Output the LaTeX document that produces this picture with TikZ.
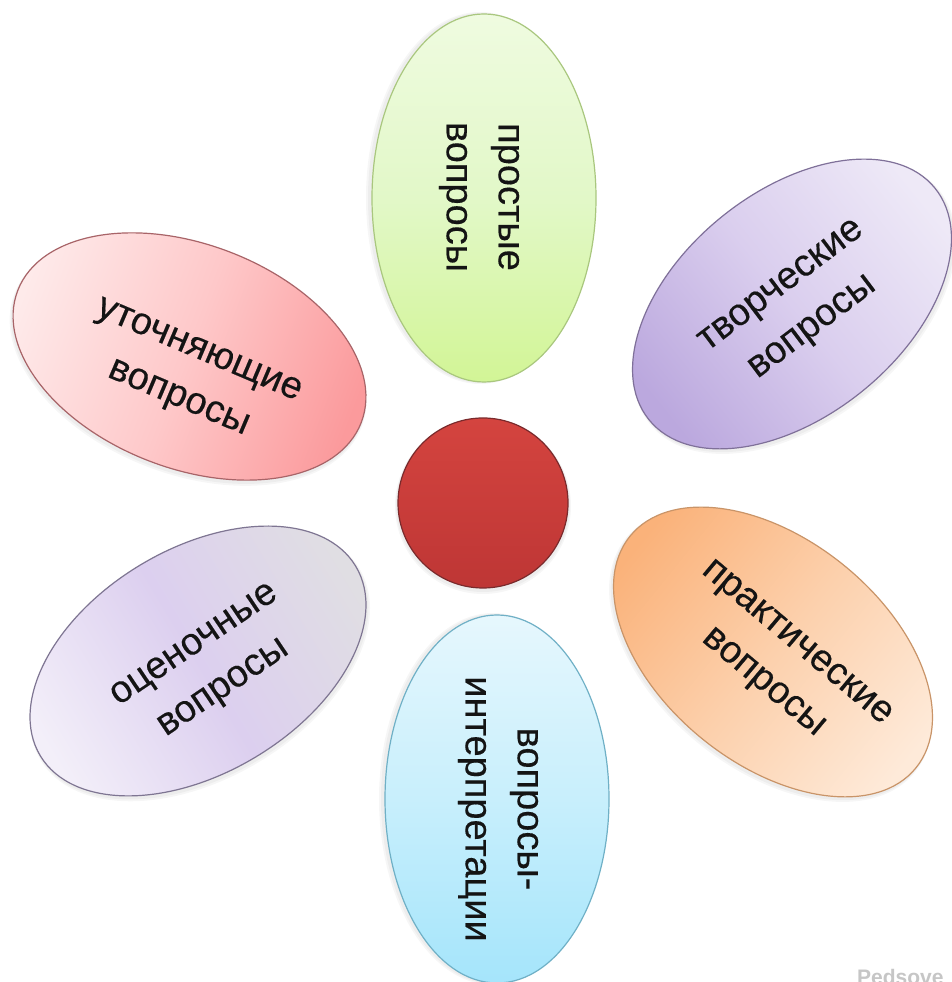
\documentclass[tikz,border=0pt]{standalone}
\usepackage{fontspec}
\setmainfont{Liberation Sans}
\newfontfamily\labfont[FakeBold=0.35]{Liberation Sans}
\definecolor{ink}{HTML}{141414}
\definecolor{ga}{HTML}{EFFBE0}\definecolor{gm}{HTML}{E2F8C8}\definecolor{gb}{HTML}{D2F596}\definecolor{gl}{HTML}{A9C77E}
\definecolor{va}{HTML}{BBA8DE}\definecolor{vm}{HTML}{DACEEE}\definecolor{vb}{HTML}{EEE9F7}\definecolor{vl}{HTML}{7F7099}
\definecolor{oa}{HTML}{FAB27A}\definecolor{om}{HTML}{FCD0AC}\definecolor{ob}{HTML}{FEEAD9}\definecolor{ol}{HTML}{C99468}
\definecolor{ca}{HTML}{E6F7FD}\definecolor{cm}{HTML}{C8EFFC}\definecolor{cb}{HTML}{A5E5FB}\definecolor{cl}{HTML}{6FB0C6}
\definecolor{ea}{HTML}{F3EFF9}\definecolor{em}{HTML}{DCCFEF}\definecolor{eb}{HTML}{E0DEE3}\definecolor{el}{HTML}{7E7592}
\definecolor{ra}{HTML}{FEEAEA}\definecolor{rm}{HTML}{FEC8C9}\definecolor{rb}{HTML}{FB9A9C}\definecolor{rl}{HTML}{A86468}
\definecolor{da}{HTML}{D4443F}\definecolor{db}{HTML}{BE3635}\definecolor{dl}{HTML}{7A2A2C}
\tikzset{
 lab/.style={font=\labfont\fontsize{38}{52}\selectfont,align=center,text=ink,inner sep=0pt},
 halo/.style={fill=black,fill opacity=0.035,draw=none},
 rim/.style={line width=1.2pt}
}
% \petal{cx}{cy}{angle}{colA}{colM}{colB}{line}
\newcommand{\petal}[7]{%
 \begin{scope}[shift={(#1,982-#2)},rotate=#3]
  \fill[halo] (0,-4) ellipse [x radius=186,y radius=114];
  \fill[halo] (0,-3) ellipse [x radius=185,y radius=113];
  \shade[left color=#4,right color=#6,middle color=#5,shading angle=90+#3,draw=#7,rim] (0,0) ellipse [x radius=184,y radius=112];
 \end{scope}}
\begin{document}
\begin{tikzpicture}[x=1pt,y=1pt]
\useasboundingbox[fill=white] (0,0) rectangle (951,982);
\petal{484}{198}{-90}{ga}{gm}{gb}{gl}
\petal{792}{304}{39}{va}{vm}{vb}{vl}
\petal{773}{652}{-39}{oa}{om}{ob}{ol}
\petal{497}{799}{-90}{ca}{cm}{cb}{cl}
\petal{198}{661}{31}{ea}{em}{eb}{el}
\petal{189.5}{356.5}{-21}{ra}{rm}{rb}{rl}
\node[lab,rotate=-90] (t1) at (479,982-197) {простые\\вопросы};
\node[lab,rotate=37] (t2) at (798,982-308) {творческие\\вопросы};
\node[lab,rotate=-40] (t3) at (779,982-664) {практические\\вопросы};
\node[lab,rotate=-90] (t4) at (498,982-809) {вопросы-\\интерпретации};
\node[lab,rotate=34] (t5) at (210,982-668) {оценочные\\вопросы};
\node[lab,rotate=-23] (t6) at (188,982-376) {уточняющие\\вопросы};
\fill[halo] (483,982-506) circle (88);
\fill[halo] (483,982-505) circle (87);
\shade[top color=da,bottom color=db,draw=dl,line width=1.2pt] (483,982-503) circle (85);
\node[font=\bfseries\fontsize{21}{24}\selectfont,text=gray!45,anchor=base west,inner sep=0pt] (wm) at (857,982-984) {Pedsove};
\end{tikzpicture}
\end{document}
